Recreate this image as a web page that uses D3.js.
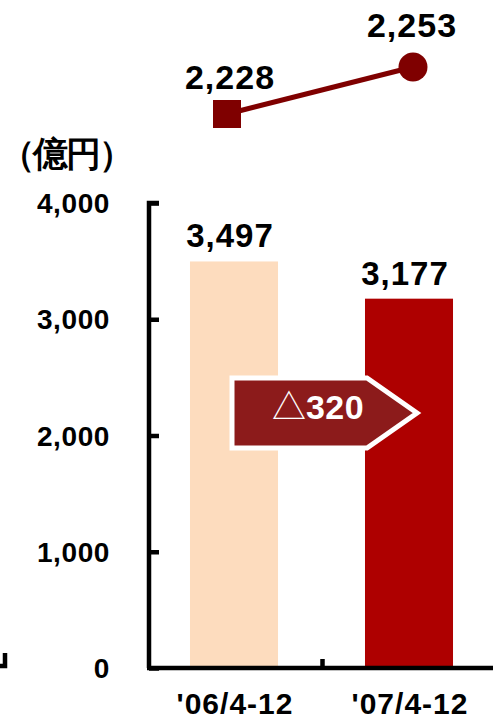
<!DOCTYPE html>
<html>
<head>
<meta charset="utf-8">
<script src="https://cdn.jsdelivr.net/npm/d3@7"></script>
<style>
  html, body { margin: 0; padding: 0; background: #fff; }
  svg { display: block; }
  text { font-family: "Liberation Sans", Arial, sans-serif; font-weight: bold; fill: #000; }
</style>
</head>
<body>
<svg id="chart" width="493" height="720"></svg>
<script>
// Periods on the x axis
const categories = ["'06/4-12", "'07/4-12"];
// Bar series (億円)
const barValues = [3497, 3177];
// Line series shown above the bars
const lineValues = [2228, 2253];
// Y axis ticks
const yTicks = [0, 1000, 2000, 3000, 4000];
// Change between the two bars
const changeMark = "△";
const changeValue = "320";
const unitLabel = "（億円）";

const barColors = ["#FDDCBE", "#AE0000"];
const lineColor = "#7F0000";
const arrowColor = "#8C1B1B";

const svg = d3.select("#chart");
const fmt = d3.format(",");

const x = d3.scaleBand()
  .domain(categories)
  .range([146.5, 496.5])
  .paddingInner(0.497)
  .paddingOuter(0.2485);

const y = d3.scaleLinear().domain([0, 4000]).range([668, 203]);

// Bars
svg.append("g").selectAll("rect")
  .data(barValues)
  .join("rect")
  .attr("x", (d, i) => x(categories[i]))
  .attr("width", x.bandwidth())
  .attr("y", d => y(d))
  .attr("height", d => y(0) - y(d))
  .attr("fill", (d, i) => barColors[i]);

// Bar value labels
svg.append("g").selectAll("text")
  .data(barValues)
  .join("text")
  .attr("x", (d, i) => x(categories[i]) + x.bandwidth() / 2 - 4)
  .attr("y", d => y(d) - 14)
  .attr("text-anchor", "middle")
  .attr("font-size", 33)
  .attr("letter-spacing", 1)
  .text(d => fmt(d));

// Y axis
const yAxis = svg.append("g")
  .attr("transform", "translate(149,0)")
  .call(d3.axisRight(y).tickValues(yTicks).tickSize(10).tickFormat(""));
yAxis.select(".domain").attr("d", `M${10},${y(4000)}H0V${y(0)}`)
  .attr("stroke", "#000").attr("stroke-width", 4.5).attr("fill", "none");
yAxis.selectAll(".tick line").attr("stroke", "#000").attr("stroke-width", 4.5);

// Y tick labels
svg.append("g").selectAll("text")
  .data(yTicks)
  .join("text")
  .attr("x", 110)
  .attr("y", d => y(d))
  .attr("dy", "0.36em")
  .attr("text-anchor", "end")
  .attr("font-size", 28)
  .attr("letter-spacing", 0.6)
  .text(d => fmt(d));

// X axis baseline with a divider tick between the periods
const xAxis = svg.append("g").attr("transform", `translate(0,${y(0)})`);
xAxis.append("line")
  .attr("x1", 147).attr("x2", 493)
  .attr("stroke", "#000").attr("stroke-width", 4.5);
xAxis.append("line")
  .attr("x1", x(categories[1]) - x.step() * x.paddingInner() / 2 + 1)
  .attr("x2", x(categories[1]) - x.step() * x.paddingInner() / 2 + 1)
  .attr("y1", 0).attr("y2", -9)
  .attr("stroke", "#000").attr("stroke-width", 4.5);

// X labels
svg.append("g").selectAll("text")
  .data(categories)
  .join("text")
  .attr("x", d => x(d) + x.bandwidth() / 2 + 1)
  .attr("y", 714)
  .attr("text-anchor", "middle")
  .attr("font-size", 30)
  .attr("letter-spacing", 1)
  .text(d => d);

// Unit label
svg.append("text")
  .attr("x", 0)
  .attr("y", 166)
  .attr("font-family", "'Noto Sans CJK JP', sans-serif")
  .attr("font-size", 35)
  .attr("font-weight", "bold")
  .attr("letter-spacing", -2)
  .text(unitLabel);

// Small corner fragment at the left edge
svg.append("path")
  .attr("d", "M5,653V666H0")
  .attr("fill", "none")
  .attr("stroke", "#000")
  .attr("stroke-width", 4.5);

// Change arrow
const ax0 = 232, ax1 = 367, axTip = 417, ay0 = 378, ay1 = 448;
svg.append("polygon")
  .attr("points", [[ax0, ay0], [ax1, ay0], [axTip, (ay0 + ay1) / 2], [ax1, ay1], [ax0, ay1]].join(" "))
  .attr("fill", arrowColor)
  .attr("stroke", "#fff")
  .attr("stroke-width", 5)
  .attr("stroke-linejoin", "miter");
const changeText = svg.append("text")
  .attr("x", 318)
  .attr("y", (ay0 + ay1) / 2)
  .attr("dy", "0.36em")
  .attr("text-anchor", "middle")
  .style("fill", "#fff");
changeText.append("tspan")
  .attr("font-family", "'Noto Sans CJK JP', sans-serif")
  .attr("font-weight", "normal")
  .attr("font-size", 34)
  .text(changeMark);
changeText.append("tspan")
  .attr("font-size", 34)
  .attr("letter-spacing", 0.5)
  .text(changeValue);

// Line series
const xl = d3.scalePoint().domain(categories).range([227, 413]);
const yl = d3.scaleLinear().domain([2200, 2275]).range([166.64, 25.64]);

svg.append("path")
  .datum(lineValues)
  .attr("d", d3.line().x((d, i) => xl(categories[i])).y(d => yl(d)))
  .attr("fill", "none")
  .attr("stroke", lineColor)
  .attr("stroke-width", 5);

svg.append("rect")
  .attr("x", xl(categories[0]) - 14)
  .attr("y", yl(lineValues[0]) - 14)
  .attr("width", 28).attr("height", 28)
  .attr("fill", lineColor);
svg.append("circle")
  .attr("cx", xl(categories[1]))
  .attr("cy", yl(lineValues[1]))
  .attr("r", 14.5)
  .attr("fill", lineColor);

const labelGap = [25, 30];
svg.append("g").selectAll("text")
  .data(lineValues)
  .join("text")
  .attr("x", (d, i) => xl(categories[i]) + (i === 0 ? 3 : -1))
  .attr("y", (d, i) => yl(d) - labelGap[i])
  .attr("text-anchor", "middle")
  .attr("font-size", 34)
  .attr("letter-spacing", 1)
  .text(d => fmt(d));
</script>
</body>
</html>
